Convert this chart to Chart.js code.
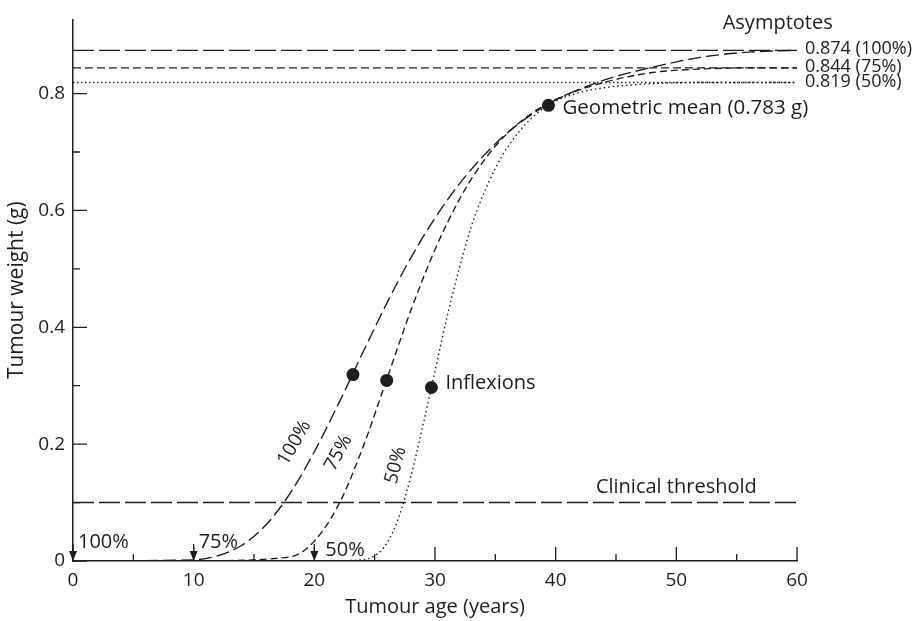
<!DOCTYPE html>
<html>
<head>
<meta charset="utf-8">
<script src="https://cdn.jsdelivr.net/npm/chart.js@4"></script>
<style>
  body { margin: 0; background: #fff; }
  canvas { display: block; }
</style>
</head>
<body>
<canvas id="growthChart" width="914" height="621"></canvas>
<script>
// Growth curves, values (age in years, weight in g)
const ages100 = [0, 10, 12, 14, 16, 18, 20, 22, 24, 26, 28, 30, 32, 34, 36, 38, 40, 44, 48, 52, 56, 60];
const weight100 = [0, 0.002, 0.009, 0.027, 0.062, 0.116, 0.187, 0.269, 0.356, 0.441, 0.519, 0.587, 0.645, 0.693, 0.733, 0.764, 0.789, 0.823, 0.845, 0.862, 0.871, 0.874];

const ages75 = [10, 18, 20, 22, 24, 26, 28, 30, 32, 34, 36, 38, 40, 44, 48, 52, 56, 60];
const weight75 = [0, 0.007, 0.034, 0.096, 0.193, 0.311, 0.429, 0.533, 0.618, 0.684, 0.732, 0.766, 0.790, 0.819, 0.836, 0.842, 0.844, 0.844];

const ages50 = [20, 24, 25, 26, 27, 28, 29, 30, 31, 32, 33, 34, 35, 36, 38, 40, 42, 44, 48, 52, 60];
const weight50 = [0, 0.002, 0.009, 0.030, 0.075, 0.145, 0.232, 0.325, 0.418, 0.500, 0.572, 0.627, 0.672, 0.708, 0.758, 0.787, 0.802, 0.810, 0.817, 0.819, 0.819];

const asymptotes = [0.874, 0.844, 0.819];
const asymptoteLabels = ['0.874 (100%)', '0.844 (75%)', '0.819 (50%)'];
const threshold = 0.1;

const inflexionAges = [23.2, 26.0, 29.7];
const inflexionWeights = [0.319, 0.309, 0.297];
const meanAge = 39.4;
const meanWeight = 0.780;

const startAges = [0, 10, 20];
const startLabels = ['100%', '75%', '50%'];

const xTicks = [0, 10, 20, 30, 40, 50, 60];
const yTicks = [0, 0.2, 0.4, 0.6, 0.8];

const ink = '#1e1e1e';
const font = "'Open Sans', 'Noto Sans', sans-serif";

const pts = (xs, ys) => xs.map((v, i) => ({ x: v, y: ys[i] }));
const flat = (v) => [{ x: 0, y: v }, { x: 60, y: v }];

function curve(data, dash) {
  return {
    data: data,
    borderColor: ink,
    borderWidth: 1.4,
    borderDash: dash,
    pointRadius: 0,
    cubicInterpolationMode: 'monotone',
    fill: false
  };
}

// tick marks drawn inside the axes, long on labelled values
const axisTicks = {
  id: 'axisTicks',
  afterDraw(chart) {
    const { ctx, scales: { x, y } } = chart;
    ctx.save();
    ctx.strokeStyle = ink;
    ctx.lineWidth = 1.3;
    ctx.beginPath();
    x.ticks.forEach(t => {
      const px = x.getPixelForValue(t.value);
      const len = xTicks.includes(t.value) ? 14 : 7;
      ctx.moveTo(px, y.bottom);
      ctx.lineTo(px, y.bottom - len);
    });
    y.ticks.forEach(t => {
      const py = y.getPixelForValue(t.value);
      const major = yTicks.some(v => Math.abs(v - t.value) < 1e-6);
      ctx.moveTo(x.left, py);
      ctx.lineTo(x.left + (major ? 14 : 7), py);
    });
    ctx.stroke();
    ctx.restore();
  }
};

// text notes and start arrows
const notes = {
  id: 'notes',
  afterDraw(chart) {
    const { ctx, scales: { x, y } } = chart;
    const text = (s, xv, yv, align, size, angle, dx, dy) => {
      ctx.save();
      ctx.translate(x.getPixelForValue(xv) + (dx || 0), y.getPixelForValue(yv) + (dy || 0));
      if (angle) ctx.rotate(angle * Math.PI / 180);
      ctx.font = size + 'px ' + font;
      ctx.textAlign = align;
      ctx.textBaseline = 'middle';
      ctx.fillStyle = ink;
      ctx.fillText(s, 0, 0);
      ctx.restore();
    };

    text('Asymptotes', 58.4, 0.920, 'center', 20);
    asymptotes.forEach((a, i) => text(asymptoteLabels[i], 60, a, 'left', 18, 0, 8, -1));
    text('Geometric mean (0.783 g)', meanAge, meanWeight, 'left', 20.5, 0, 14, 3);
    text('Inflexions', inflexionAges[2], inflexionWeights[2], 'left', 20, 0, 14, -4);
    text('Clinical threshold', 50, threshold, 'center', 20, 0, 0, -15);

    text('100%', 18.35, 0.202, 'center', 19, -60);
    text('75%', 22.0, 0.185, 'center', 19, -62);
    text('50%', 26.75, 0.164, 'center', 19, -75);

    const base = y.getPixelForValue(0);
    startAges.forEach((a, i) => {
      const px = x.getPixelForValue(a);
      ctx.save();
      ctx.strokeStyle = ink;
      ctx.fillStyle = ink;
      ctx.lineWidth = 1.3;
      ctx.beginPath();
      ctx.moveTo(px, base - 17);
      ctx.lineTo(px, base - 8);
      ctx.stroke();
      ctx.beginPath();
      ctx.moveTo(px - 4, base - 10);
      ctx.lineTo(px + 4, base - 10);
      ctx.lineTo(px, base);
      ctx.closePath();
      ctx.fill();
      ctx.restore();
      text(startLabels[i], a, 0, 'left', 20, 0, i === 2 ? 11 : 5, i === 2 ? -11 : -19);
    });
  }
};

const ctx = document.getElementById('growthChart').getContext('2d');
new Chart(ctx, {
  type: 'line',
  data: {
    datasets: [
      curve(pts(ages100, weight100), [13, 5]),
      curve(pts(ages75, weight75), [7, 4]),
      curve(pts(ages50, weight50), [1.5, 3]),
      curve(flat(asymptotes[0]), [21, 5]),
      curve(flat(asymptotes[1]), [8, 4]),
      curve(flat(asymptotes[2]), [1.5, 2.5]),
      curve(flat(threshold), [21, 5]),
      {
        type: 'scatter',
        data: pts(inflexionAges, inflexionWeights).concat([{ x: meanAge, y: meanWeight }]),
        pointRadius: 6.5,
        pointBackgroundColor: ink,
        pointBorderColor: ink,
        pointBorderWidth: 0
      }
    ]
  },
  options: {
    responsive: false,
    devicePixelRatio: 1,
    animation: false,
    layout: { padding: { top: 14, right: 117, left: 0, bottom: 0 } },
    plugins: { legend: { display: false }, tooltip: { enabled: false } },
    scales: {
      x: {
        type: 'linear',
        min: 0,
        max: 60,
        afterFit: s => { s.height = 60; },
        border: { color: ink, width: 1.5 },
        grid: { display: false, drawTicks: false },
        ticks: {
          stepSize: 5,
          padding: 8,
          color: ink,
          font: { family: font, size: 19 },
          callback: v => xTicks.includes(v) ? String(v) : ''
        },
        title: {
          display: true,
          text: 'Tumour age (years)',
          color: ink,
          font: { family: font, size: 20 },
          padding: { top: 0, bottom: 2 }
        }
      },
      y: {
        min: 0,
        max: 0.927,
        afterFit: s => { s.width = 73; },
        afterBuildTicks: s => {
          s.ticks = s.ticks.filter(t => Math.abs(t.value * 10 - Math.round(t.value * 10)) < 1e-6);
        },
        border: { color: ink, width: 1.5 },
        grid: { display: false, drawTicks: false },
        ticks: {
          stepSize: 0.1,
          padding: 8,
          color: ink,
          font: { family: font, size: 19 },
          callback: v => {
            const hit = yTicks.find(t => Math.abs(t - v) < 1e-6);
            return hit === undefined ? '' : String(hit);
          }
        },
        title: {
          display: true,
          text: 'Tumour weight (g)',
          color: ink,
          font: { family: font, size: 21 },
          padding: { top: 4, bottom: 0 }
        }
      }
    }
  },
  plugins: [axisTicks, notes]
});
</script>
</body>
</html>
